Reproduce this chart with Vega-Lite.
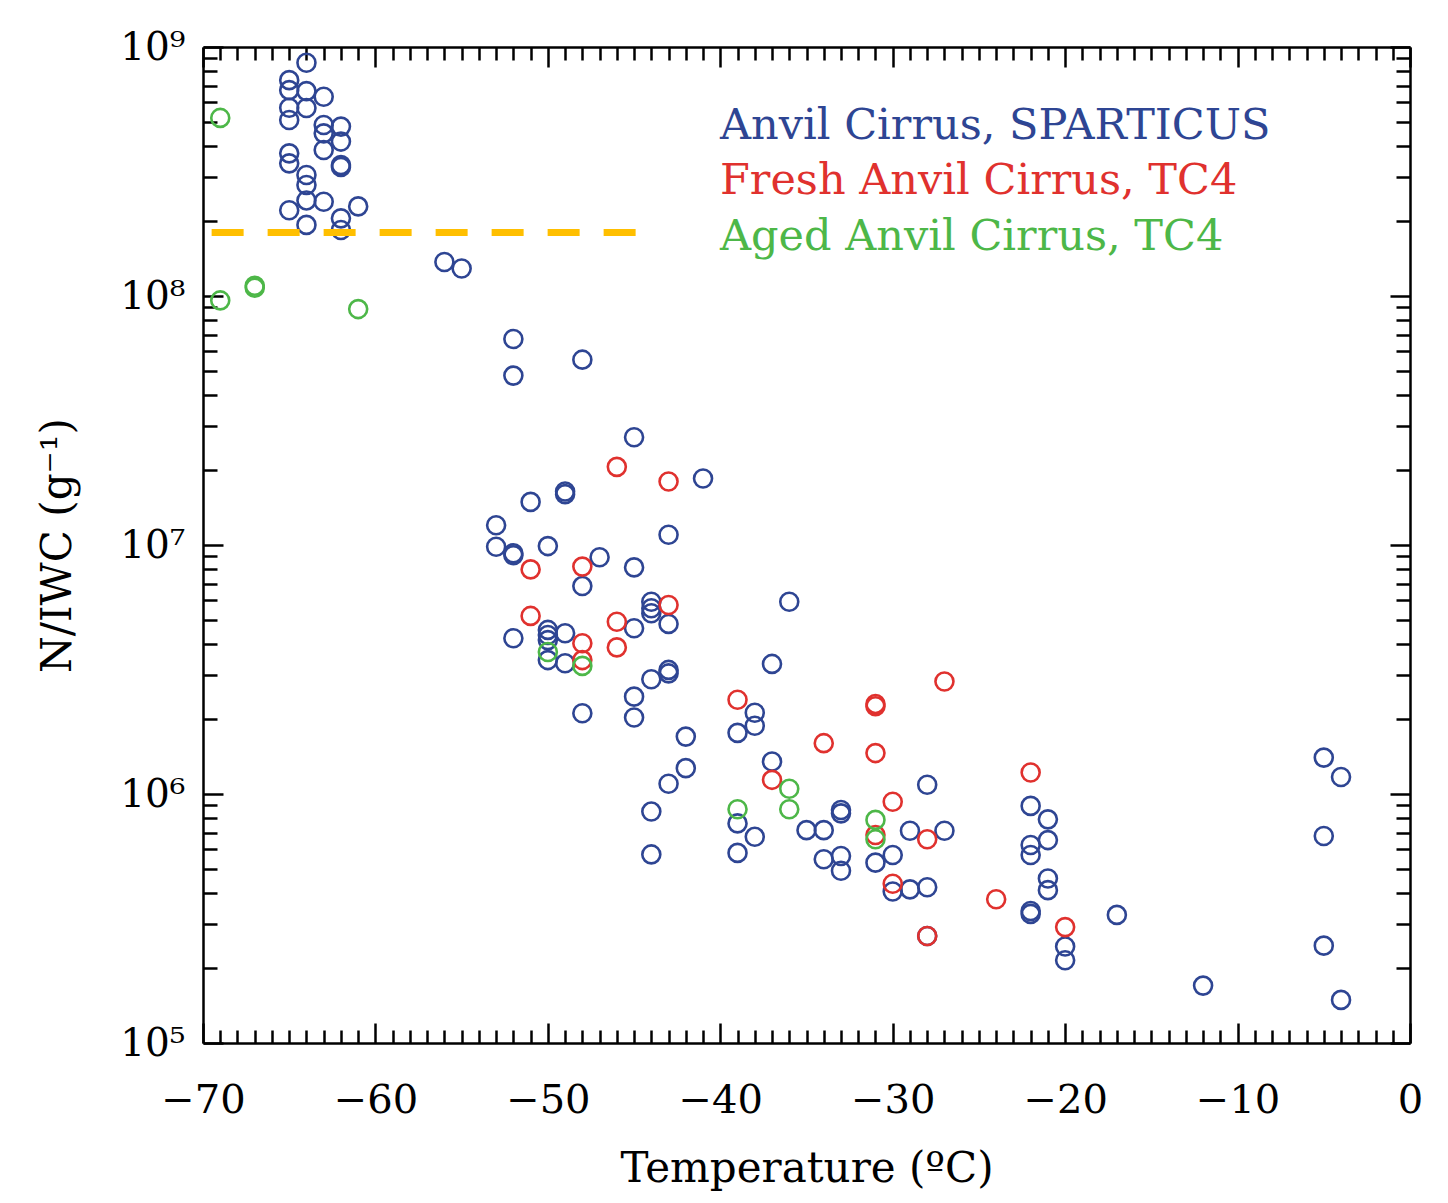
{
  "$schema": "https://vega.github.io/schema/vega-lite/v6.json",
  "width": 1207,
  "height": 996,
  "autosize": {"type": "none"},
  "padding": {"left": 203, "top": 47, "right": 38, "bottom": 160},
  "background": "white",
  "config": {
    "view": {"stroke": null},
    "font": "DejaVu Serif",
    "axis": {"labelOverlap": false, "labelFlush": false, "grid": false}
  },
  "datasets": {
    "pts": [
      {"T": -65, "N": 7.36e8, "c": "Anvil Cirrus, SPARTICUS"},
      {"T": -65, "N": 6.71e8, "c": "Anvil Cirrus, SPARTICUS"},
      {"T": -65, "N": 5.7e8, "c": "Anvil Cirrus, SPARTICUS"},
      {"T": -65, "N": 5.09e8, "c": "Anvil Cirrus, SPARTICUS"},
      {"T": -65, "N": 3.74e8, "c": "Anvil Cirrus, SPARTICUS"},
      {"T": -65, "N": 3.41e8, "c": "Anvil Cirrus, SPARTICUS"},
      {"T": -65, "N": 2.21e8, "c": "Anvil Cirrus, SPARTICUS"},
      {"T": -64, "N": 8.65e8, "c": "Anvil Cirrus, SPARTICUS"},
      {"T": -64, "N": 6.65e8, "c": "Anvil Cirrus, SPARTICUS"},
      {"T": -64, "N": 5.69e8, "c": "Anvil Cirrus, SPARTICUS"},
      {"T": -64, "N": 3.06e8, "c": "Anvil Cirrus, SPARTICUS"},
      {"T": -64, "N": 2.79e8, "c": "Anvil Cirrus, SPARTICUS"},
      {"T": -64, "N": 2.42e8, "c": "Anvil Cirrus, SPARTICUS"},
      {"T": -64, "N": 1.93e8, "c": "Anvil Cirrus, SPARTICUS"},
      {"T": -63, "N": 6.31e8, "c": "Anvil Cirrus, SPARTICUS"},
      {"T": -63, "N": 4.86e8, "c": "Anvil Cirrus, SPARTICUS"},
      {"T": -63, "N": 4.5e8, "c": "Anvil Cirrus, SPARTICUS"},
      {"T": -63, "N": 3.86e8, "c": "Anvil Cirrus, SPARTICUS"},
      {"T": -63, "N": 2.39e8, "c": "Anvil Cirrus, SPARTICUS"},
      {"T": -62, "N": 4.79e8, "c": "Anvil Cirrus, SPARTICUS"},
      {"T": -62, "N": 4.17e8, "c": "Anvil Cirrus, SPARTICUS"},
      {"T": -62, "N": 3.36e8, "c": "Anvil Cirrus, SPARTICUS"},
      {"T": -62, "N": 3.3e8, "c": "Anvil Cirrus, SPARTICUS"},
      {"T": -62, "N": 2.05e8, "c": "Anvil Cirrus, SPARTICUS"},
      {"T": -62, "N": 1.84e8, "c": "Anvil Cirrus, SPARTICUS"},
      {"T": -61, "N": 2.29e8, "c": "Anvil Cirrus, SPARTICUS"},
      {"T": -56, "N": 1.37e8, "c": "Anvil Cirrus, SPARTICUS"},
      {"T": -55, "N": 1.29e8, "c": "Anvil Cirrus, SPARTICUS"},
      {"T": -53, "N": 1.2e7, "c": "Anvil Cirrus, SPARTICUS"},
      {"T": -53, "N": 9.84e6, "c": "Anvil Cirrus, SPARTICUS"},
      {"T": -52, "N": 6.72e7, "c": "Anvil Cirrus, SPARTICUS"},
      {"T": -52, "N": 4.79e7, "c": "Anvil Cirrus, SPARTICUS"},
      {"T": -52, "N": 9.27e6, "c": "Anvil Cirrus, SPARTICUS"},
      {"T": -52, "N": 9.1e6, "c": "Anvil Cirrus, SPARTICUS"},
      {"T": -52, "N": 4.22e6, "c": "Anvil Cirrus, SPARTICUS"},
      {"T": -51, "N": 1.49e7, "c": "Anvil Cirrus, SPARTICUS"},
      {"T": -50, "N": 9.9e6, "c": "Anvil Cirrus, SPARTICUS"},
      {"T": -50, "N": 4.56e6, "c": "Anvil Cirrus, SPARTICUS"},
      {"T": -50, "N": 4.35e6, "c": "Anvil Cirrus, SPARTICUS"},
      {"T": -50, "N": 4.15e6, "c": "Anvil Cirrus, SPARTICUS"},
      {"T": -50, "N": 3.45e6, "c": "Anvil Cirrus, SPARTICUS"},
      {"T": -49, "N": 1.6e7, "c": "Anvil Cirrus, SPARTICUS"},
      {"T": -49, "N": 1.64e7, "c": "Anvil Cirrus, SPARTICUS"},
      {"T": -49, "N": 4.42e6, "c": "Anvil Cirrus, SPARTICUS"},
      {"T": -49, "N": 3.35e6, "c": "Anvil Cirrus, SPARTICUS"},
      {"T": -48, "N": 5.55e7, "c": "Anvil Cirrus, SPARTICUS"},
      {"T": -48, "N": 6.84e6, "c": "Anvil Cirrus, SPARTICUS"},
      {"T": -48, "N": 2.11e6, "c": "Anvil Cirrus, SPARTICUS"},
      {"T": -47, "N": 8.93e6, "c": "Anvil Cirrus, SPARTICUS"},
      {"T": -45, "N": 2.71e7, "c": "Anvil Cirrus, SPARTICUS"},
      {"T": -45, "N": 8.13e6, "c": "Anvil Cirrus, SPARTICUS"},
      {"T": -45, "N": 4.63e6, "c": "Anvil Cirrus, SPARTICUS"},
      {"T": -45, "N": 2.46e6, "c": "Anvil Cirrus, SPARTICUS"},
      {"T": -45, "N": 2.03e6, "c": "Anvil Cirrus, SPARTICUS"},
      {"T": -44, "N": 5.92e6, "c": "Anvil Cirrus, SPARTICUS"},
      {"T": -44, "N": 5.57e6, "c": "Anvil Cirrus, SPARTICUS"},
      {"T": -44, "N": 5.32e6, "c": "Anvil Cirrus, SPARTICUS"},
      {"T": -44, "N": 2.89e6, "c": "Anvil Cirrus, SPARTICUS"},
      {"T": -44, "N": 8.5e5, "c": "Anvil Cirrus, SPARTICUS"},
      {"T": -44, "N": 5.72e5, "c": "Anvil Cirrus, SPARTICUS"},
      {"T": -43, "N": 1.1e7, "c": "Anvil Cirrus, SPARTICUS"},
      {"T": -43, "N": 4.82e6, "c": "Anvil Cirrus, SPARTICUS"},
      {"T": -43, "N": 3.15e6, "c": "Anvil Cirrus, SPARTICUS"},
      {"T": -43, "N": 3.05e6, "c": "Anvil Cirrus, SPARTICUS"},
      {"T": -43, "N": 1.1e6, "c": "Anvil Cirrus, SPARTICUS"},
      {"T": -42, "N": 1.7e6, "c": "Anvil Cirrus, SPARTICUS"},
      {"T": -42, "N": 1.27e6, "c": "Anvil Cirrus, SPARTICUS"},
      {"T": -41, "N": 1.85e7, "c": "Anvil Cirrus, SPARTICUS"},
      {"T": -39, "N": 1.76e6, "c": "Anvil Cirrus, SPARTICUS"},
      {"T": -39, "N": 7.62e5, "c": "Anvil Cirrus, SPARTICUS"},
      {"T": -39, "N": 5.8e5, "c": "Anvil Cirrus, SPARTICUS"},
      {"T": -38, "N": 2.12e6, "c": "Anvil Cirrus, SPARTICUS"},
      {"T": -38, "N": 1.88e6, "c": "Anvil Cirrus, SPARTICUS"},
      {"T": -38, "N": 6.73e5, "c": "Anvil Cirrus, SPARTICUS"},
      {"T": -37, "N": 3.33e6, "c": "Anvil Cirrus, SPARTICUS"},
      {"T": -37, "N": 1.35e6, "c": "Anvil Cirrus, SPARTICUS"},
      {"T": -36, "N": 5.92e6, "c": "Anvil Cirrus, SPARTICUS"},
      {"T": -35, "N": 7.16e5, "c": "Anvil Cirrus, SPARTICUS"},
      {"T": -34, "N": 7.16e5, "c": "Anvil Cirrus, SPARTICUS"},
      {"T": -34, "N": 5.47e5, "c": "Anvil Cirrus, SPARTICUS"},
      {"T": -33, "N": 8.63e5, "c": "Anvil Cirrus, SPARTICUS"},
      {"T": -33, "N": 8.36e5, "c": "Anvil Cirrus, SPARTICUS"},
      {"T": -33, "N": 5.64e5, "c": "Anvil Cirrus, SPARTICUS"},
      {"T": -33, "N": 4.92e5, "c": "Anvil Cirrus, SPARTICUS"},
      {"T": -31, "N": 5.3e5, "c": "Anvil Cirrus, SPARTICUS"},
      {"T": -30, "N": 5.69e5, "c": "Anvil Cirrus, SPARTICUS"},
      {"T": -30, "N": 4.06e5, "c": "Anvil Cirrus, SPARTICUS"},
      {"T": -29, "N": 7.12e5, "c": "Anvil Cirrus, SPARTICUS"},
      {"T": -29, "N": 4.14e5, "c": "Anvil Cirrus, SPARTICUS"},
      {"T": -28, "N": 1.09e6, "c": "Anvil Cirrus, SPARTICUS"},
      {"T": -28, "N": 4.22e5, "c": "Anvil Cirrus, SPARTICUS"},
      {"T": -28, "N": 2.69e5, "c": "Anvil Cirrus, SPARTICUS"},
      {"T": -27, "N": 7.12e5, "c": "Anvil Cirrus, SPARTICUS"},
      {"T": -22, "N": 8.96e5, "c": "Anvil Cirrus, SPARTICUS"},
      {"T": -22, "N": 6.24e5, "c": "Anvil Cirrus, SPARTICUS"},
      {"T": -22, "N": 5.69e5, "c": "Anvil Cirrus, SPARTICUS"},
      {"T": -22, "N": 3.39e5, "c": "Anvil Cirrus, SPARTICUS"},
      {"T": -22, "N": 3.3e5, "c": "Anvil Cirrus, SPARTICUS"},
      {"T": -21, "N": 7.91e5, "c": "Anvil Cirrus, SPARTICUS"},
      {"T": -21, "N": 6.53e5, "c": "Anvil Cirrus, SPARTICUS"},
      {"T": -21, "N": 4.58e5, "c": "Anvil Cirrus, SPARTICUS"},
      {"T": -21, "N": 4.11e5, "c": "Anvil Cirrus, SPARTICUS"},
      {"T": -20, "N": 2.44e5, "c": "Anvil Cirrus, SPARTICUS"},
      {"T": -20, "N": 2.15e5, "c": "Anvil Cirrus, SPARTICUS"},
      {"T": -17, "N": 3.27e5, "c": "Anvil Cirrus, SPARTICUS"},
      {"T": -12, "N": 1.7e5, "c": "Anvil Cirrus, SPARTICUS"},
      {"T": -5, "N": 1.4e6, "c": "Anvil Cirrus, SPARTICUS"},
      {"T": -5, "N": 6.78e5, "c": "Anvil Cirrus, SPARTICUS"},
      {"T": -5, "N": 2.46e5, "c": "Anvil Cirrus, SPARTICUS"},
      {"T": -4, "N": 1.17e6, "c": "Anvil Cirrus, SPARTICUS"},
      {"T": -4, "N": 1.49e5, "c": "Anvil Cirrus, SPARTICUS"},
      {"T": -51, "N": 7.98e6, "c": "Fresh Anvil Cirrus, TC4"},
      {"T": -51, "N": 5.19e6, "c": "Fresh Anvil Cirrus, TC4"},
      {"T": -48, "N": 8.19e6, "c": "Fresh Anvil Cirrus, TC4"},
      {"T": -48, "N": 4.03e6, "c": "Fresh Anvil Cirrus, TC4"},
      {"T": -48, "N": 3.45e6, "c": "Fresh Anvil Cirrus, TC4"},
      {"T": -46, "N": 2.06e7, "c": "Fresh Anvil Cirrus, TC4"},
      {"T": -46, "N": 4.92e6, "c": "Fresh Anvil Cirrus, TC4"},
      {"T": -46, "N": 3.88e6, "c": "Fresh Anvil Cirrus, TC4"},
      {"T": -43, "N": 1.8e7, "c": "Fresh Anvil Cirrus, TC4"},
      {"T": -43, "N": 5.74e6, "c": "Fresh Anvil Cirrus, TC4"},
      {"T": -39, "N": 2.39e6, "c": "Fresh Anvil Cirrus, TC4"},
      {"T": -37, "N": 1.14e6, "c": "Fresh Anvil Cirrus, TC4"},
      {"T": -34, "N": 1.6e6, "c": "Fresh Anvil Cirrus, TC4"},
      {"T": -31, "N": 2.3e6, "c": "Fresh Anvil Cirrus, TC4"},
      {"T": -31, "N": 2.25e6, "c": "Fresh Anvil Cirrus, TC4"},
      {"T": -31, "N": 1.46e6, "c": "Fresh Anvil Cirrus, TC4"},
      {"T": -31, "N": 6.84e5, "c": "Fresh Anvil Cirrus, TC4"},
      {"T": -30, "N": 9.31e5, "c": "Fresh Anvil Cirrus, TC4"},
      {"T": -30, "N": 4.36e5, "c": "Fresh Anvil Cirrus, TC4"},
      {"T": -28, "N": 6.58e5, "c": "Fresh Anvil Cirrus, TC4"},
      {"T": -28, "N": 2.69e5, "c": "Fresh Anvil Cirrus, TC4"},
      {"T": -27, "N": 2.83e6, "c": "Fresh Anvil Cirrus, TC4"},
      {"T": -24, "N": 3.78e5, "c": "Fresh Anvil Cirrus, TC4"},
      {"T": -22, "N": 1.22e6, "c": "Fresh Anvil Cirrus, TC4"},
      {"T": -20, "N": 2.92e5, "c": "Fresh Anvil Cirrus, TC4"},
      {"T": -69, "N": 5.19e8, "c": "Aged Anvil Cirrus, TC4"},
      {"T": -69, "N": 9.6e7, "c": "Aged Anvil Cirrus, TC4"},
      {"T": -67, "N": 1.08e8, "c": "Aged Anvil Cirrus, TC4"},
      {"T": -67, "N": 1.1e8, "c": "Aged Anvil Cirrus, TC4"},
      {"T": -61, "N": 8.86e7, "c": "Aged Anvil Cirrus, TC4"},
      {"T": -50, "N": 3.72e6, "c": "Aged Anvil Cirrus, TC4"},
      {"T": -48, "N": 3.27e6, "c": "Aged Anvil Cirrus, TC4"},
      {"T": -39, "N": 8.69e5, "c": "Aged Anvil Cirrus, TC4"},
      {"T": -36, "N": 1.05e6, "c": "Aged Anvil Cirrus, TC4"},
      {"T": -36, "N": 8.69e5, "c": "Aged Anvil Cirrus, TC4"},
      {"T": -31, "N": 7.87e5, "c": "Aged Anvil Cirrus, TC4"},
      {"T": -31, "N": 6.58e5, "c": "Aged Anvil Cirrus, TC4"}
    ]
  },
  "layer": [
    {
      "data": {"name": "pts"},
      "mark": {"type": "point", "shape": "circle", "filled": false, "size": 324, "strokeWidth": 2.6, "opacity": 1},
      "encoding": {
        "x": {
          "field": "T", "type": "quantitative",
          "scale": {"domain": [-70, 0], "nice": false, "zero": false},
          "axis": {
            "orient": "bottom", "values": [-70, -60, -50, -40, -30, -20, -10, 0],
            "ticks": false, "domain": true, "domainColor": "black", "domainWidth": 2.5,
            "labelFontSize": 40, "labelPadding": 37, "labelColor": "black", "labelFont": "DejaVu Serif",
            "title": "Temperature (ºC)", "titleFontSize": 42, "titleFontWeight": "normal",
            "titleFont": "DejaVu Serif", "titlePadding": 28, "titleColor": "black"
          }
        },
        "y": {
          "field": "N", "type": "quantitative",
          "scale": {"type": "log", "domain": [100000, 1000000000], "nice": false},
          "axis": {
            "orient": "left", "values": [100000, 1000000, 10000000, 100000000, 1000000000],
            "ticks": false, "domain": true, "domainColor": "black", "domainWidth": 2.5,
            "labelExpr": "datum.value >= 1e9 ? '10⁹' : datum.value >= 1e8 ? '10⁸' : datum.value >= 1e7 ? '10⁷' : datum.value >= 1e6 ? '10⁶' : '10⁵'",
            "labelFontSize": 39, "labelPadding": 18, "labelColor": "black", "labelFont": "DejaVu Serif",
            "title": "N/IWC (g⁻¹)", "titleFontSize": 42, "titleFontWeight": "normal",
            "titleFont": "DejaVu Serif", "titlePadding": 40, "titleColor": "black"
          }
        },
        "color": {
          "field": "c", "type": "nominal",
          "scale": {
            "domain": ["Anvil Cirrus, SPARTICUS", "Fresh Anvil Cirrus, TC4", "Aged Anvil Cirrus, TC4"],
            "range": ["#2E4593", "#E0312E", "#4DB748"]
          },
          "legend": {
            "orient": "none", "legendX": 474, "legendY": 57, "title": null,
            "symbolSize": 0, "symbolStrokeWidth": 0, "symbolOpacity": 0, "symbolType": "circle",
            "labelFontSize": 43, "labelFont": "DejaVu Serif", "labelOffset": 0, "labelLimit": 0,
            "rowPadding": 11.5, "padding": 0,
            "labelColor": {"expr": "scale('color', datum.value)"}
          }
        }
      }
    },
    {
      "data": {"values": [{}]},
      "mark": {"type": "rule", "color": "#FFBF00", "strokeWidth": 7, "strokeDash": [32, 24]},
      "encoding": {
        "x": {"datum": -69.5, "type": "quantitative", "axis": null},
        "x2": {"datum": -44.8},
        "y": {"datum": 180000000, "type": "quantitative", "axis": null}
      }
    },
    {
      "data": {"name": "pts"},
      "mark": {"type": "point", "opacity": 0},
      "encoding": {
        "x": {"field": "T", "type": "quantitative", "axis": {
          "orient": "bottom", "values": [-70, -60, -50, -40, -30, -20, -10, 0],
          "labels": false, "domain": false, "ticks": true, "tickSize": -20, "tickWidth": 2.5, "tickColor": "black", "title": null}},
        "y": {"field": "N", "type": "quantitative", "axis": {
          "orient": "left", "values": [100000, 1000000, 10000000, 100000000, 1000000000],
          "labels": false, "domain": false, "ticks": true, "tickSize": -20, "tickWidth": 2.5, "tickColor": "black", "title": null}}
      }
    },
    {
      "data": {"name": "pts"},
      "mark": {"type": "point", "opacity": 0},
      "encoding": {
        "x": {"field": "T", "type": "quantitative", "axis": {
          "orient": "bottom", "values": [-69,-68,-67,-66,-65,-64,-63,-62,-61,-59,-58,-57,-56,-55,-54,-53,-52,-51,-49,-48,-47,-46,-45,-44,-43,-42,-41,-39,-38,-37,-36,-35,-34,-33,-32,-31,-29,-28,-27,-26,-25,-24,-23,-22,-21,-19,-18,-17,-16,-15,-14,-13,-12,-11,-9,-8,-7,-6,-5,-4,-3,-2,-1],
          "labels": false, "domain": false, "ticks": true, "tickSize": -13, "tickWidth": 2.5, "tickColor": "black", "title": null}},
        "y": {"field": "N", "type": "quantitative", "axis": {
          "orient": "left", "values": [200000,300000,400000,500000,600000,700000,800000,900000,2000000,3000000,4000000,5000000,6000000,7000000,8000000,9000000,20000000,30000000,40000000,50000000,60000000,70000000,80000000,90000000,200000000,300000000,400000000,500000000,600000000,700000000,800000000,900000000],
          "labels": false, "domain": false, "ticks": true, "tickSize": -14, "tickWidth": 2.5, "tickColor": "black", "title": null}}
      }
    },
    {
      "data": {"name": "pts"},
      "mark": {"type": "point", "opacity": 0},
      "encoding": {
        "x": {"field": "T", "type": "quantitative", "axis": {
          "orient": "top", "values": [-70, -60, -50, -40, -30, -20, -10, 0],
          "labels": false, "domain": true, "domainColor": "black", "domainWidth": 2.5, "ticks": true, "tickSize": -20, "tickWidth": 2.5, "tickColor": "black", "title": null}},
        "y": {"field": "N", "type": "quantitative", "axis": {
          "orient": "right", "values": [100000, 1000000, 10000000, 100000000, 1000000000],
          "labels": false, "domain": true, "domainColor": "black", "domainWidth": 2.5, "ticks": true, "tickSize": -20, "tickWidth": 2.5, "tickColor": "black", "title": null}}
      }
    },
    {
      "data": {"name": "pts"},
      "mark": {"type": "point", "opacity": 0},
      "encoding": {
        "x": {"field": "T", "type": "quantitative", "axis": {
          "orient": "top", "values": [-69,-68,-67,-66,-65,-64,-63,-62,-61,-59,-58,-57,-56,-55,-54,-53,-52,-51,-49,-48,-47,-46,-45,-44,-43,-42,-41,-39,-38,-37,-36,-35,-34,-33,-32,-31,-29,-28,-27,-26,-25,-24,-23,-22,-21,-19,-18,-17,-16,-15,-14,-13,-12,-11,-9,-8,-7,-6,-5,-4,-3,-2,-1],
          "labels": false, "domain": false, "ticks": true, "tickSize": -13, "tickWidth": 2.5, "tickColor": "black", "title": null}},
        "y": {"field": "N", "type": "quantitative", "axis": {
          "orient": "right", "values": [200000,300000,400000,500000,600000,700000,800000,900000,2000000,3000000,4000000,5000000,6000000,7000000,8000000,9000000,20000000,30000000,40000000,50000000,60000000,70000000,80000000,90000000,200000000,300000000,400000000,500000000,600000000,700000000,800000000,900000000],
          "labels": false, "domain": false, "ticks": true, "tickSize": -14, "tickWidth": 2.5, "tickColor": "black", "title": null}}
      }
    }
  ],
  "resolve": {"axis": {"x": "independent", "y": "independent"}}
}
